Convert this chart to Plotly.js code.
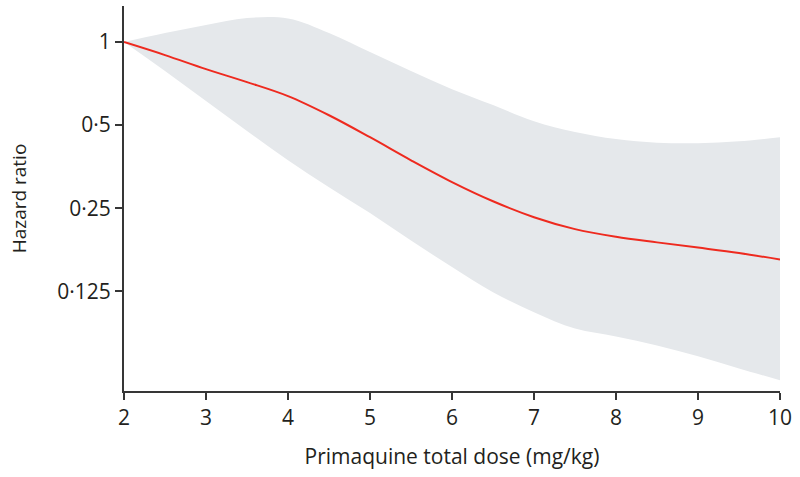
<!DOCTYPE html>
<html>
<head>
<meta charset="utf-8">
<script src="https://cdn.plot.ly/plotly-3.0.1.min.js"></script>
<style>html,body{margin:0;padding:0;background:#fff;}#chart{width:800px;height:477px;}</style>
</head>
<body>
<div id="chart"></div>
<script>
// Primaquine total dose (mg/kg)
const dose = [2, 2.5, 3, 3.5, 4, 4.5, 5, 5.5, 6, 6.5, 7, 7.5, 8, 8.5, 9, 9.5, 10];
// Hazard ratio (estimate)
const hr = [1, 0.897, 0.798, 0.716, 0.637, 0.543, 0.452, 0.373, 0.311, 0.265, 0.232, 0.210, 0.197, 0.188, 0.180, 0.172, 0.163];
// Upper 95% CI
const upper = [1, 1.078, 1.153, 1.222, 1.217, 1.078, 0.920, 0.785, 0.675, 0.591, 0.517, 0.472, 0.445, 0.432, 0.430, 0.437, 0.452];
// Lower 95% CI
const lower = [1, 0.785, 0.611, 0.476, 0.373, 0.298, 0.240, 0.191, 0.153, 0.124, 0.105, 0.0916, 0.0858, 0.0796, 0.0727, 0.0657, 0.0595];

const yTickVals = [1, 0.5, 0.25, 0.125];
const yTickText = ['1', '0·5', '0·25', '0·125'];
const xTickVals = [2, 3, 4, 5, 6, 7, 8, 9, 10];

const font = 'Open Sans, Noto Sans, sans-serif';

const traces = [
  {x: dose, y: lower, type: 'scatter', mode: 'lines', line: {width: 0, shape: 'spline', smoothing: 1}, hoverinfo: 'skip', showlegend: false},
  {x: dose, y: upper, type: 'scatter', mode: 'lines', line: {width: 0, shape: 'spline', smoothing: 1}, fill: 'tonexty', fillcolor: '#e5e8eb', showlegend: false},
  {x: dose, y: hr, type: 'scatter', mode: 'lines', line: {color: '#ee2a1f', width: 2, shape: 'spline', smoothing: 1}, showlegend: false}
];

const layout = {
  width: 800, height: 477,
  margin: {l: 124, r: 20, t: 6, b: 86},
  paper_bgcolor: '#fff', plot_bgcolor: '#fff',
  font: {family: font, color: '#231f20', size: 21},
  xaxis: {
    range: [2, 10], showgrid: false, zeroline: false,
    showline: true, linecolor: '#363636', linewidth: 2,
    ticks: 'outside', ticklen: 7, tickwidth: 2, tickcolor: '#363636',
    tickvals: xTickVals, tickfont: {size: 21},
    automargin: false,
    title: {text: 'Primaquine total dose (mg/kg)', font: {size: 21}, standoff: 19}
  },
  yaxis: {
    type: 'log', range: [Math.log10(Math.pow(2, -4.2)), Math.log10(Math.pow(2, 0.434))],
    showgrid: false, zeroline: false,
    showline: true, linecolor: '#363636', linewidth: 2,
    ticks: 'outside', ticklen: 7, tickwidth: 2, tickcolor: '#363636',
    tickvals: yTickVals, ticktext: yTickText, tickfont: {size: 21},
    automargin: false,
    title: {text: 'Hazard ratio', font: {size: 19}, standoff: 26}
  }
};

Plotly.newPlot('chart', traces, layout, {displayModeBar: false, staticPlot: true});
</script>
</body>
</html>
